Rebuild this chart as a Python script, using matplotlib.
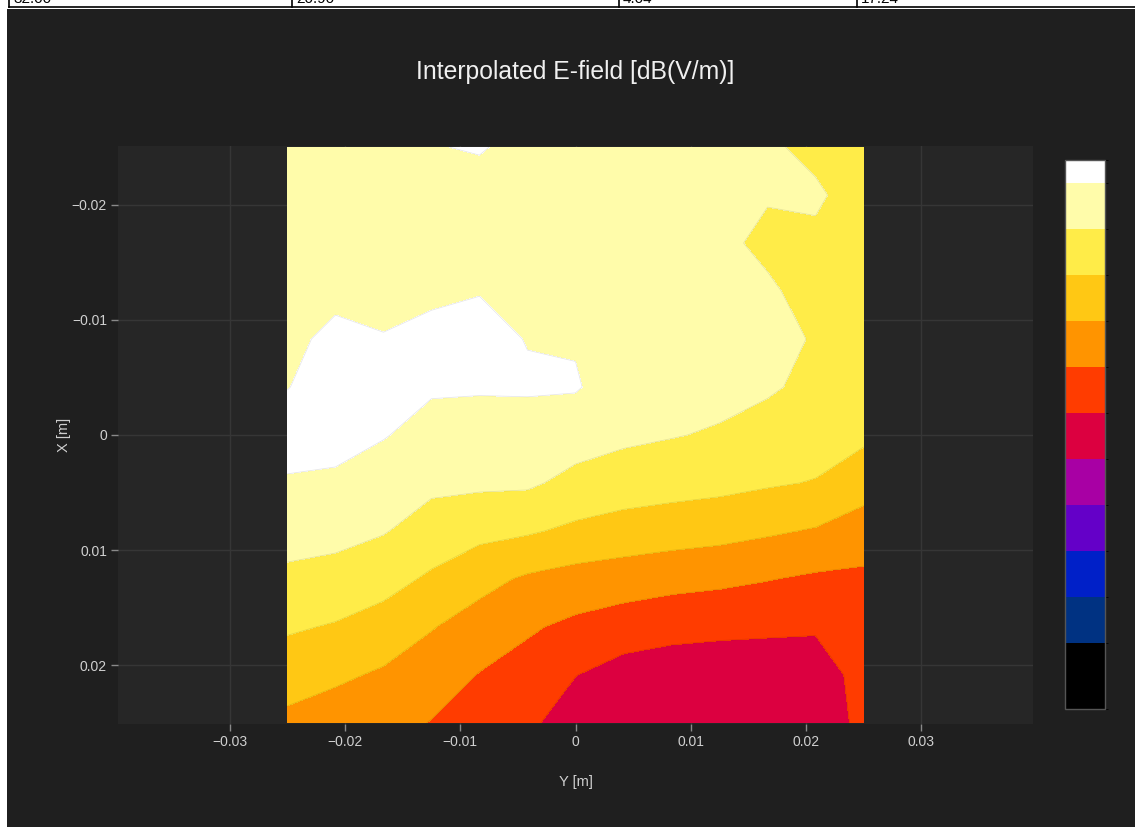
"""
Interpolated E-field map (dark theme) with a stepped colour bar.
"""
import numpy as np
import matplotlib
matplotlib.use('Agg')
import matplotlib.pyplot as plt
from matplotlib.colors import ListedColormap, BoundaryNorm
from matplotlib.patches import Rectangle

plt.rcParams['font.family'] = ['Liberation Sans', 'DejaVu Sans']

# grid of the measurement plane [m]
y_pos = np.linspace(-0.025, 0.025, 13)   # horizontal axis (Y)
x_pos = np.linspace(-0.025, 0.025, 13)   # vertical axis (X), top row first

# field level, rows = X (top -> bottom), cols = Y (left -> right)
efield = [
    [10.60, 10.60, 10.60, 10.97, 11.05, 10.80, 10.75, 10.70, 10.70, 10.50, 10.15, 9.75, 9.60],
    [10.60, 10.65, 10.65, 10.75, 10.75, 10.80, 10.75, 10.70, 10.70, 10.15, 10.05, 10.15, 9.55],
    [10.65, 10.70, 10.70, 10.80, 10.85, 10.85, 10.80, 10.70, 10.70, 10.15, 9.85, 9.80, 9.50],
    [10.70, 10.80, 10.70, 10.90, 10.97, 10.90, 10.85, 10.70, 10.70, 10.35, 10.10, 9.75, 9.50],
    [10.80, 11.20, 11.05, 11.15, 11.25, 10.97, 10.93, 10.65, 10.60, 10.40, 10.20, 9.95, 9.40],
    [10.98, 11.30, 11.25, 11.10, 11.08, 11.10, 11.08, 10.50, 10.40, 10.30, 10.10, 9.80, 9.30],
    [11.30, 11.30, 11.05, 10.69, 10.63, 10.61, 10.43, 10.20, 10.05, 9.90, 9.68, 9.45, 9.20],
    [10.93, 10.85, 10.56, 10.20, 10.17, 10.15, 9.72, 9.49, 9.38, 9.27, 9.10, 8.95, 8.40],
    [10.39, 10.30, 10.06, 9.58, 9.28, 9.11, 8.80, 8.60, 8.45, 8.33, 8.13, 7.92, 7.55],
    [9.79, 9.65, 9.35, 8.85, 8.30, 7.86, 7.63, 7.49, 7.34, 7.22, 7.04, 6.85, 6.80],
    [9.12, 8.92, 8.59, 8.05, 7.58, 7.12, 6.78, 6.51, 6.30, 6.20, 6.15, 6.11, 6.55],
    [8.44, 8.17, 7.87, 7.49, 6.96, 6.63, 6.02, 5.60, 5.50, 5.50, 5.50, 5.50, 6.35],
    [7.76, 7.50, 7.35, 6.96, 6.40, 6.19, 5.50, 5.30, 5.30, 5.30, 5.35, 5.40, 6.25],
]

# contour levels and the stepped colour scale (low -> high)
levels = [-0.43, 1, 2, 3, 4, 5, 6, 7, 8, 9, 10, 11, 11.5]
band_colors = ['#000000', '#003282', '#0020C8', '#6400C8', '#A800A4', '#DC0040',
               '#FF3C00', '#FF9400', '#FFC814', '#FFEC48', '#FFFCAA', '#FFFFFF']

x_ticks = [-0.03, -0.02, -0.01, 0, 0.01, 0.02, 0.03]
y_ticks = [-0.02, -0.01, 0, 0.01, 0.02]

table_cells = ['32.00', '20.90', '4.04', '17.24']

paper = '#1f1f1f'
plot_bg = '#262626'
grid_col = '#363636'
text_col = '#d0d0d0'

W, H = 1135, 827
fig = plt.figure(figsize=(W / 100, H / 100), dpi=100, facecolor='white')

# background layer: dark page and the table row cut off above it
bg = fig.add_axes([0, 0, 1, 1], zorder=-10)
bg.set_xlim(0, W)
bg.set_ylim(H, 0)
bg.axis('off')
bg.add_patch(Rectangle((7, 9), W - 7, H - 9, facecolor=paper, edgecolor='none'))
bg.plot([9, W], [7, 7], color='black', lw=1.2)
for i, xc in enumerate([9, 292, 619, 857]):
    bg.plot([xc, xc], [0, 7], color='black', lw=1.2)
    bg.text(xc + 4, 3, table_cells[i], fontsize=11, color='black', va='baseline', ha='left')

ax = fig.add_axes([118 / W, 1 - 724 / H, (1033 - 118) / W, (724 - 146) / H])
ax.set_facecolor(plot_bg)
for s in ax.spines.values():
    s.set_visible(False)

cmap = ListedColormap(band_colors)
norm = BoundaryNorm(levels, cmap.N)
YY, XX = np.meshgrid(y_pos, x_pos)
cf = ax.contourf(YY, XX, np.array(efield), levels=levels, cmap=cmap, norm=norm, zorder=2)
ax.contour(YY, XX, np.array(efield), levels=levels[1:-1], colors='#00000018',
           linewidths=0.6, zorder=3)

ax.set_xlim(-0.0397, 0.0397)
ax.set_ylim(0.0251, -0.0251)
ax.set_xticks(x_ticks)
ax.set_yticks(y_ticks)
ax.set_xticklabels(['0' if t == 0 else f'{t:g}'.replace('-', '\u2212') for t in x_ticks])
ax.set_yticklabels(['0' if t == 0 else f'{t:g}'.replace('-', '\u2212') for t in y_ticks])
ax.grid(True, color=grid_col, lw=1, zorder=1)
ax.set_axisbelow(True)
ax.tick_params(colors='#8a8a8a', labelcolor=text_col, labelsize=10, length=5,
               width=1, direction='out', pad=3)

ax.set_xlabel('Y [m]', color=text_col, fontsize=10.5)
ax.set_ylabel('X [m]', color=text_col, fontsize=10.5)
ax.xaxis.set_label_coords(0.5, (724 - 782) / 578)
ax.yaxis.set_label_coords((64 - 118) / 915, 0.5)
ax.xaxis.label.set_va('center')
ax.yaxis.label.set_va('center')
fig.text(575 / W, 1 - 72 / H, 'Interpolated E-field [dB(V/m)]', color='#f0f0f0',
         fontsize=17.8, ha='center', va='center')

# colour bar without tick labels
cax = fig.add_axes([1065 / W, 1 - 709 / H, 40 / W, (709 - 160) / H])
cb = fig.colorbar(cf, cax=cax, spacing='proportional')
cb.set_ticks([])
cb.outline.set_edgecolor('#555555')
cb.outline.set_linewidth(1)

fig.savefig('out.png', dpi=100, facecolor=fig.get_facecolor())
